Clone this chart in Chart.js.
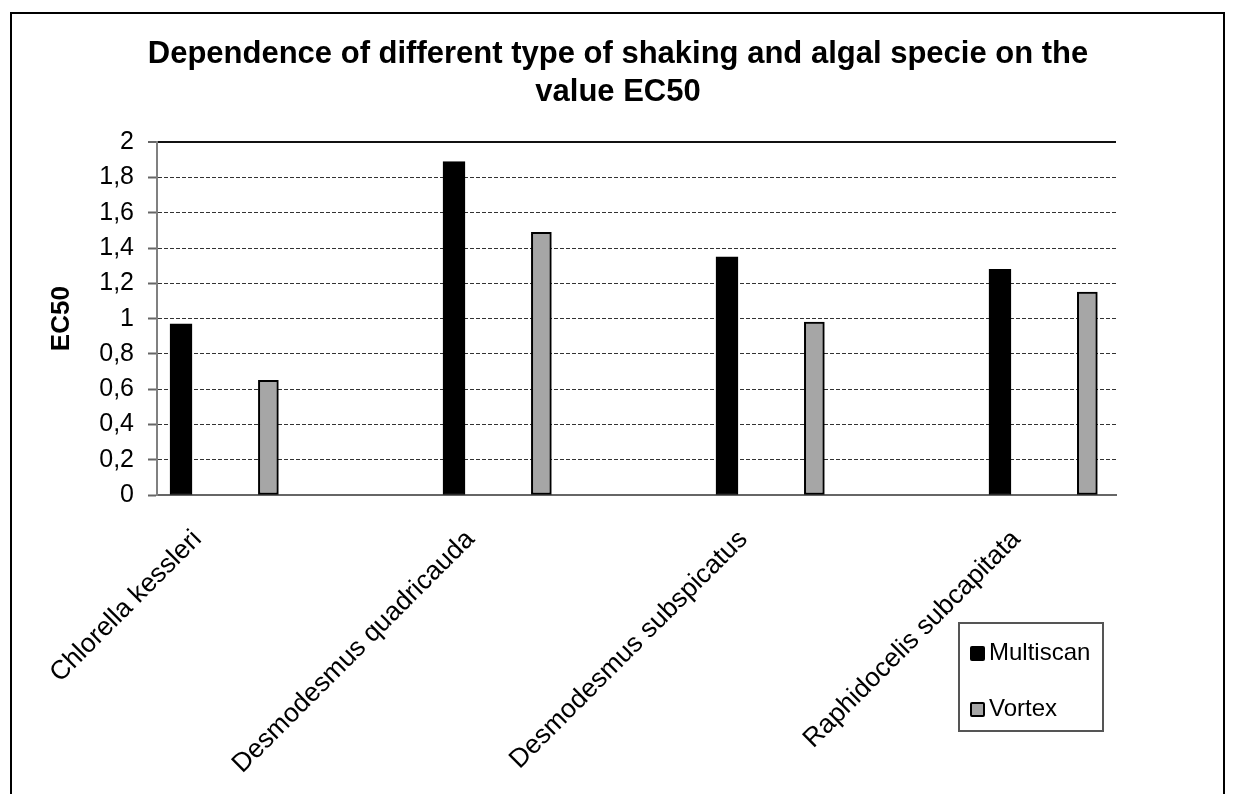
<!DOCTYPE html>
<html>
<head>
<meta charset="utf-8">
<title>EC50</title>
<script src="https://cdn.jsdelivr.net/npm/chart.js@4.4.1/dist/chart.umd.min.js"></script>
<style>
  html, body { margin: 0; padding: 0; background: #fff; overflow: hidden; }
  #wrap { position: relative; width: 1236px; height: 794px; }
  #frame { position: absolute; left: 10px; top: 12px; width: 1215px; height: 820px;
           border: 2px solid #000; box-sizing: border-box; }
  #chart { position: absolute; left: 0; top: 0; }
  #legend { position: absolute; left: 958px; top: 622px; width: 146px; height: 110px;
            border: 2px solid #555; box-sizing: border-box;
            font-family: "Liberation Sans", Arial, sans-serif; font-size: 24px; color: #000; }
  .item { position: absolute; left: 10px; height: 20px; line-height: 20px; white-space: nowrap; }
  .swatch { display: inline-block; width: 15px; height: 15px; box-sizing: border-box;
            border-radius: 2px; margin-right: 4px; vertical-align: -1px; }
</style>
</head>
<body>
<div id="wrap">
  <div id="frame"></div>
  <canvas id="chart" width="1236" height="794"></canvas>
  <div id="legend"></div>
</div>
<script>
// chart data
const categories = ['Chlorella kessleri', 'Desmodesmus quadricauda', 'Desmodesmus subspicatus', 'Raphidocelis subcapitata'];
const seriesNames = ['Multiscan', 'Vortex'];
const multiscan = [0.97, 1.89, 1.35, 1.28];
const vortex = [0.65, 1.49, 0.98, 1.15];
const yTickLabels = ['0', '0,2', '0,4', '0,6', '0,8', '1', '1,2', '1,4', '1,6', '1,8', '2'];

// where the bars sit inside one category slot (in category units)
const VORTEX_SHIFT = 0.32;
const LABEL_SHIFT = 0.06;
const X_MIN = -0.088;
const X_MAX = 3.425;

const FONT = '"Liberation Sans", Arial, sans-serif';
Chart.defaults.font.family = FONT;
Chart.defaults.color = '#000';

function points(values, shift) {
  return values.map((v, i) => ({ x: i + shift, y: v }));
}

const ctx = document.getElementById('chart').getContext('2d');
const chart = new Chart(ctx, {
  type: 'bar',
  data: {
    datasets: [
      {
        label: seriesNames[0],
        data: points(multiscan, 0),
        backgroundColor: '#000',
        borderColor: '#000',
        borderWidth: 1,
        borderSkipped: false,
        barThickness: 22,
        grouped: false
      },
      {
        label: seriesNames[1],
        data: points(vortex, VORTEX_SHIFT),
        backgroundColor: '#a6a6a6',
        borderColor: '#000',
        borderWidth: 2,
        borderSkipped: false,
        barThickness: 20,
        grouped: false
      }
    ]
  },
  options: {
    responsive: false,
    animation: false,
    layout: { padding: 0 },
    plugins: {
      legend: { display: false },
      tooltip: { enabled: false },
      title: {
        display: true,
        text: ['Dependence of different type of shaking and algal specie on the', 'value EC50'],
        font: { size: 31, weight: 'bold', lineHeight: 1.23 },
        color: '#000',
        padding: { top: 35, bottom: 31 }
      }
    },
    scales: {
      x: {
        type: 'linear',
        offset: false,
        min: X_MIN,
        max: X_MAX,
        afterFit: s => { s.height = 299; },
        afterBuildTicks: s => { s.ticks = categories.map((c, i) => ({ value: i + LABEL_SHIFT })); },
        ticks: {
          autoSkip: false,
          minRotation: 45,
          maxRotation: 45,
          padding: 21,
          font: { size: 26.5 },
          callback: (v, i) => categories[i]
        },
        grid: { display: false, offset: false },
        border: { display: true, color: '#666', width: 2 }
      },
      y: {
        min: 0,
        max: 2,
        afterFit: s => { s.width = 157; },
        ticks: {
          stepSize: 0.2,
          padding: 14,
          font: { size: 25 },
          callback: (v, i) => yTickLabels[i]
        },
        grid: {
          color: c => {
            if (!c.tick) return '#333';
            if (c.tick.value <= 0) return 'rgba(0,0,0,0)';
            if (c.tick.value >= 2) return '#111';
            return '#333';
          },
          lineWidth: c => (c.tick && c.tick.value >= 2) ? 2 : 1,
          tickLength: 9,
          tickColor: '#666',
          tickWidth: 2
        },
        border: {
          color: '#808080',
          width: 2,
          dash: c => (c.tick && c.tick.value > 0 && c.tick.value < 2) ? [4, 2] : []
        },
        title: {
          display: true,
          text: 'EC50',
          font: { size: 26, weight: 'bold' },
          color: '#000',
          padding: { top: 46, bottom: 4 }
        }
      },
      // empty strip on the right so the plot ends where the original does
      yRight: {
        position: 'right',
        afterFit: s => { s.width = 120; },
        ticks: { display: false },
        grid: { display: false },
        border: { display: false }
      }
    }
  }
});

// legend box built from the datasets
const legend = document.getElementById('legend');
chart.data.datasets.forEach((ds, i) => {
  const item = document.createElement('div');
  item.className = 'item';
  item.style.top = (i === 0 ? 18 : 74) + 'px';
  item.innerHTML = `<span class="swatch" style="background:${ds.backgroundColor};border:${ds.borderWidth > 1 ? 2 : 0}px solid ${ds.borderColor}"></span>${ds.label}`;
  legend.appendChild(item);
});
</script>
</body>
</html>
